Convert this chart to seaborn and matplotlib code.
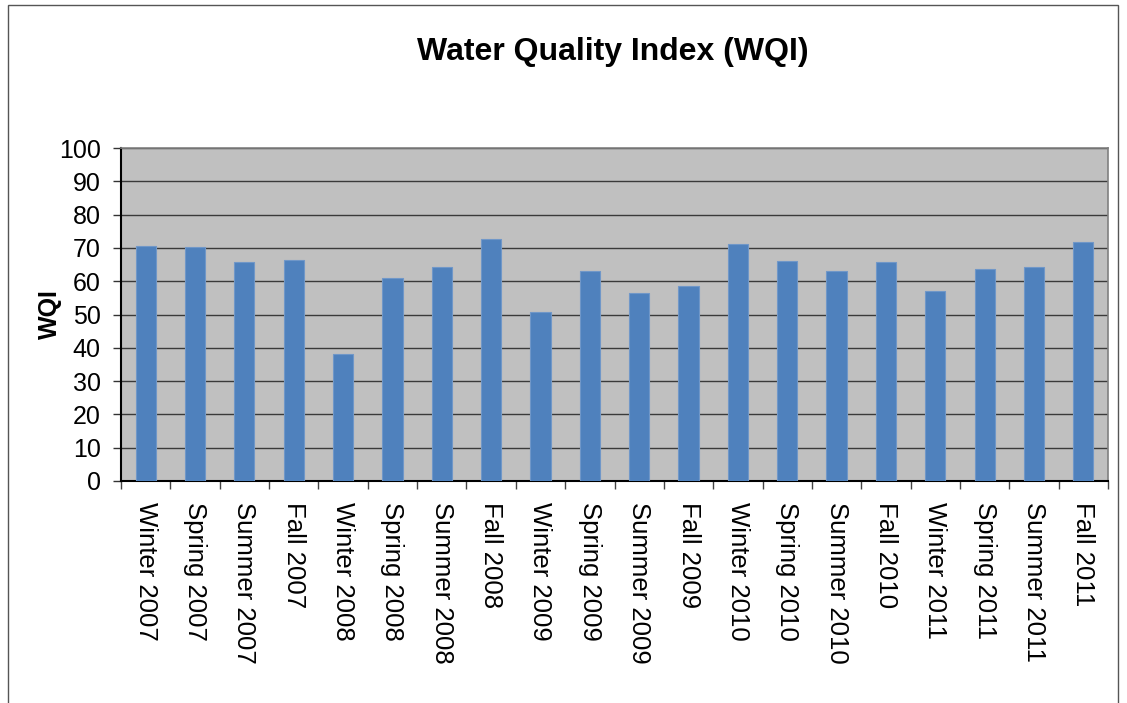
import matplotlib
matplotlib.use('Agg')
import matplotlib.pyplot as plt
import seaborn as sns
import pandas as pd
from matplotlib.patches import Rectangle

# seasons and WQI values
seasons = ['Winter 2007', 'Spring 2007', 'Summer 2007', 'Fall 2007',
           'Winter 2008', 'Spring 2008', 'Summer 2008', 'Fall 2008',
           'Winter 2009', 'Spring 2009', 'Summer 2009', 'Fall 2009',
           'Winter 2010', 'Spring 2010', 'Summer 2010', 'Fall 2010',
           'Winter 2011', 'Spring 2011', 'Summer 2011', 'Fall 2011']
wqi = [70.7, 70.2, 65.9, 66.3,
       38.2, 60.9, 64.2, 72.6,
       50.8, 63.1, 56.4, 58.5,
       71.2, 66.1, 63.2, 65.9,
       57.2, 63.8, 64.2, 71.7]
y_ticks = list(range(0, 101, 10))

df = pd.DataFrame({'Season': seasons, 'WQI': wqi})

sns.set_theme(style='white', rc={'text.color': 'black',
                                 'axes.labelcolor': 'black',
                                 'xtick.color': 'black',
                                 'ytick.color': 'black'})
plt.rcParams['font.family'] = ['Liberation Sans', 'DejaVu Sans']

fig = plt.figure(figsize=(11.27, 7.03), dpi=100)
W, H = 1127, 703
ax = fig.add_axes([121 / W, 1 - 481 / H, (1108 - 121) / W, (481 - 148) / H])

sns.barplot(data=df, x='Season', y='WQI', color='#4F81BD', width=0.41,
            saturation=1, ax=ax, zorder=3, edgecolor='#7097C8', linewidth=0.8)

ax.set_facecolor('#C0C0C0')
ax.set_xlim(-0.5, len(seasons) - 0.5)
ax.set_ylim(0, 100)
ax.set_yticks(y_ticks)
ax.yaxis.grid(True, color='#3a3a3a', linewidth=1.0, zorder=0)
ax.set_axisbelow(True)

ax.tick_params(axis='y', labelsize=18, length=6, width=1, color='#333333',
               labelcolor='black', direction='out', left=True, pad=8.5)
ax.set_xticks(range(len(seasons)))
ax.set_xticklabels(seasons, rotation=-90, fontsize=18.5, color='black')
ax.tick_params(axis='x', which='major', length=0, pad=15)
ax.set_xticks([i - 0.5 for i in range(len(seasons) + 1)], minor=True)
ax.tick_params(axis='x', which='minor', length=6, width=1, color='#444444',
               direction='out', bottom=True)

for side in ['left', 'bottom']:
    ax.spines[side].set_color('black')
    ax.spines[side].set_linewidth(1.5)
for side in ['top', 'right']:
    ax.spines[side].set_color('#808080')
    ax.spines[side].set_linewidth(1.2)

ax.set_xlabel('')
ax.set_ylabel('WQI', fontsize=18, fontweight='bold', labelpad=-2, color='black')

fig.text(0.544, 1 - 52 / H, 'Water Quality Index (WQI)', ha='center',
         va='center', fontsize=23, fontweight='bold', color='black')

# outer chart border
fig.patches.append(Rectangle((8 / W, -0.01), (1118 - 8) / W, 1 - 5 / H + 0.01,
                             transform=fig.transFigure, fill=False,
                             edgecolor='#555555', linewidth=1.0))

fig.savefig('out.png', dpi=100, facecolor='white')
